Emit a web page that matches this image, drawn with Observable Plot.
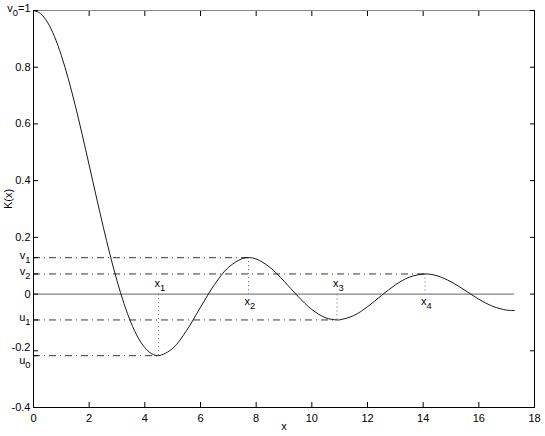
<!DOCTYPE html>
<html><head><meta charset="utf-8">
<script src="https://cdn.jsdelivr.net/npm/d3@7"></script>
<script src="https://cdn.jsdelivr.net/npm/@observablehq/plot@0.6"></script>
<style>
body{margin:0;background:#fff}
#chart svg{font-family:"Liberation Sans",Arial,Helvetica,sans-serif;background:#fff}
</style>
</head><body><div id="chart"></div>
<script>
// Curve K(x)
const curveX = [0,0.25,0.5,0.75,1,1.25,1.5,1.75,2,2.25,2.5,2.75,3,3.25,3.5,3.75,4,4.25,4.493,5,5.5,6,6.5,7,7.5,7.725,8,8.5,9,9.5,10,10.5,10.904,11,11.5,12,12.5,13,13.5,14.066,14.5,15,15.5,16,16.5,17,17.28];
const curveK = [1,0.9896,0.9589,0.9089,0.8415,0.7592,0.6650,0.5623,0.4546,0.3458,0.2394,0.1388,0.0470,-0.0333,-0.1002,-0.1524,-0.1892,-0.2106,-0.2172,-0.1918,-0.1283,-0.0466,0.0331,0.0939,0.1251,0.1284,0.1237,0.0939,0.0458,-0.0079,-0.0544,-0.0838,-0.0913,-0.0909,-0.0761,-0.0447,-0.0053,0.0323,0.0595,0.0709,0.0645,0.0434,0.0133,-0.0180,-0.0431,-0.0566,-0.0579];

// Extrema
const extremaX = [4.493, 7.725, 10.904, 14.066];
const extremaK = [-0.2172, 0.1284, -0.0913, 0.0709];
const extremaNames = ["x_1", "x_2", "x_3", "x_4"];
const levelNames = ["u_0", "v_1", "u_1", "v_2"];

// Axis ticks
const xTicks = [0,2,4,6,8,10,12,14,16,18];
const yTicks = [-0.4,-0.2,0,0.2,0.4,0.6,0.8,1];
const yTickLabels = ["-0.4","-0.2","0","0.2","0.4","0.6","0.8","v_0=1"];

const curve = curveX.map((x, i) => ({x, k: curveK[i]}));
const levels = extremaX.map((x, i) => ({x, k: extremaK[i], label: extremaNames[i], level: levelNames[i]}));
const leftTicks = yTicks.concat(extremaK);
const leftLabel = new Map(yTicks.map((v, i) => [v, yTickLabels[i]]));
levels.forEach(d => leftLabel.set(d.k, d.level));

const chart = Plot.plot({
  width: 545,
  height: 436,
  marginLeft: 33,
  marginRight: 11,
  marginTop: 10,
  marginBottom: 29,
  style: {fontFamily: '"Liberation Sans", Arial, Helvetica, sans-serif', fontSize: "11px", background: "#fff", color: "#000"},
  x: {domain: [0, 18]},
  y: {domain: [-0.4, 1]},
  marks: [
    Plot.ruleY([0], {x1: curveX[0], x2: curveX[curveX.length - 1], stroke: "#808080", strokeWidth: 1.3}),
    Plot.ruleY(levels, {y: "k", x1: 0, x2: "x", stroke: "#222", strokeWidth: 0.9, strokeDasharray: "7,4,1,4"}),
    Plot.ruleX(levels, {x: "x", y1: "k", y2: () => 0, stroke: "#555", strokeWidth: 0.9, strokeDasharray: "1,3"}),
    Plot.line(curve, {x: "x", y: "k", curve: "catmull-rom", stroke: "#000", strokeWidth: 0.9}),
    Plot.text(levels.filter(d => d.k < 0), {x: "x", y: () => 0, text: "label", textAnchor: "start", dx: -4, dy: -9, fill: "#000"}),
    Plot.text(levels.filter(d => d.k > 0), {x: "x", y: () => 0, text: "label", textAnchor: "start", dx: -4, dy: 9, fill: "#000"}),
    Plot.frame({stroke: "#000", strokeWidth: 1}),
    Plot.ruleY([1], {stroke: "#8a8a8a", strokeWidth: 1}),
    Plot.axisX({anchor: "bottom", ticks: xTicks, tickSize: -5, tickPadding: 12, tickFormat: d => String(d), label: null}),
    Plot.axisX({anchor: "top", ticks: xTicks, tickSize: -5, tickFormat: () => "", label: null}),
    Plot.axisY({anchor: "left", ticks: leftTicks, tickSize: -5, tickPadding: 8, tickFormat: d => leftLabel.get(d), label: null}),
    Plot.axisY({anchor: "right", ticks: yTicks, tickSize: -5, tickFormat: () => "", label: null}),
    Plot.text(["x"], {frameAnchor: "bottom", dy: 22, fill: "#000"}),
    Plot.text(["K(x)"], {frameAnchor: "left", dx: -25, rotate: -90, fill: "#000"})
  ]
});

// Render "_n" as subscripts; nudge the crowded "-0.2"/"u0" pair apart
d3.select(chart).selectAll("text").each(function () {
  const t = this.textContent;
  const el = d3.select(this);
  if (t === "-0.2") { el.attr("transform", (el.attr("transform") || "") + " translate(0,-3)"); return; }
  if (!t || t.indexOf("_") < 0) return;
  el.text(null);
  const parts = t.split(/_(.)/);
  let down = false;
  parts.forEach((p, i) => {
    if (p === "") return;
    const isSub = i % 2 === 1;
    const ts = el.append("tspan").text(p);
    if (isSub && !down) { ts.attr("dy", 4).attr("font-size", "0.85em"); down = true; }
    else if (!isSub && down) { ts.attr("dy", -4); down = false; }
  });
  const shift = t === "u_0" ? 5 : -2;
  el.attr("transform", (el.attr("transform") || "") + ` translate(0,${shift})`);
});

document.getElementById("chart").appendChild(chart);
</script>
</body></html>
